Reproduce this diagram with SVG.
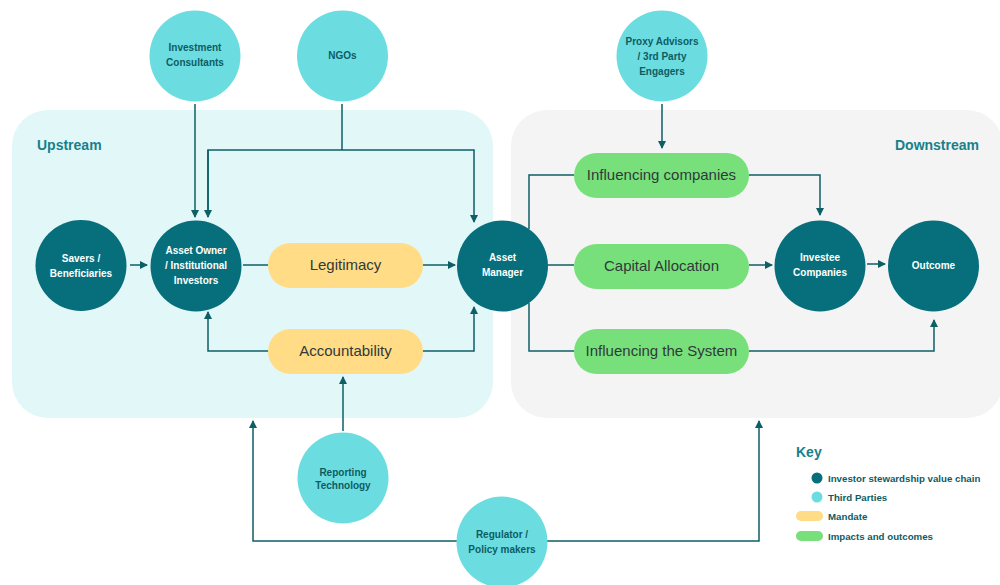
<svg xmlns="http://www.w3.org/2000/svg" width="1000" height="585" viewBox="0 0 1000 585">
<style>
.dk{fill:#076f7c}
.lt{fill:#6bdde1}
.ye{fill:#ffdc85}
.gr{fill:#78e07a}
.wt{font-family:"Liberation Sans",Arial,sans-serif;font-weight:bold;font-size:10px;fill:#ffffff;text-anchor:middle}
.tt{font-family:"Liberation Sans",Arial,sans-serif;font-weight:bold;font-size:10px;fill:#0e5c63;text-anchor:middle}
.pt{font-family:"Liberation Sans",Arial,sans-serif;font-size:15px;fill:#2f3a3a;text-anchor:middle}
.hd{font-family:"Liberation Sans",Arial,sans-serif;font-weight:bold;font-size:14px;fill:#17808b}
.kt{font-family:"Liberation Sans",Arial,sans-serif;font-weight:bold;font-size:9.7px;fill:#0e5c63}
.ln{fill:none;stroke:#0d5f66;stroke-width:1.5}
</style>
<defs>
<marker id="ah" viewBox="0 0 8 8" refX="7" refY="4" markerWidth="8" markerHeight="8" markerUnits="userSpaceOnUse" orient="auto">
<path d="M0,0 L8,4 L0,8 Z" fill="#0d5f66"/>
</marker>
</defs>

<g id="panels">
<rect id="upstream" x="12" y="110" width="481" height="308" rx="36" fill="#e2f7f8"/>
<rect id="downstream" x="511" y="110" width="492" height="308" rx="36" fill="#f4f4f4"/>
<text class="hd" x="37" y="150">Upstream</text>
<text class="hd" x="979" y="150" text-anchor="end">Downstream</text>
</g>

<g id="connectors">
<path class="ln" d="M195,104 V217" marker-end="url(#ah)"/>
<path class="ln" d="M342,104 V150"/>
<path class="ln" d="M208,217 V150 H474 V222" marker-end="url(#ah)"/>
<path class="ln" d="M208,150 V217" marker-end="url(#ah)"/>
<path class="ln" d="M130,265 H147" marker-end="url(#ah)"/>
<path class="ln" d="M243,265 H268"/>
<path class="ln" d="M423,265 H455" marker-end="url(#ah)"/>
<path class="ln" d="M268,351 H208 V312" marker-end="url(#ah)"/>
<path class="ln" d="M423,351 H474 V307" marker-end="url(#ah)"/>
<path class="ln" d="M343,431 V377" marker-end="url(#ah)"/>
<path class="ln" d="M457,541 H253 V421" marker-end="url(#ah)"/>
<path class="ln" d="M547,541 H759 V421" marker-end="url(#ah)"/>
<path class="ln" d="M662,104 V148" marker-end="url(#ah)"/>
<path class="ln" d="M529,229 V175 H574"/>
<path class="ln" d="M749,175 H820 V215" marker-end="url(#ah)"/>
<path class="ln" d="M547,265 H574"/>
<path class="ln" d="M749,265 H772" marker-end="url(#ah)"/>
<path class="ln" d="M867,264 H885" marker-end="url(#ah)"/>
<path class="ln" d="M529,303 V351 H574"/>
<path class="ln" d="M749,351 H934 V320" marker-end="url(#ah)"/>
</g>

<g id="investment-consultants"><circle class="lt" cx="195" cy="56" r="45.5"/><text class="tt" x="195" y="51">Investment</text><text class="tt" x="195" y="66">Consultants</text></g>
<g id="ngos"><circle class="lt" cx="342.5" cy="56" r="45.5"/><text class="tt" x="342.5" y="59">NGOs</text></g>
<g id="proxy-advisors"><circle class="lt" cx="662" cy="56" r="45.5"/><text class="tt" x="662" y="45">Proxy Advisors</text><text class="tt" x="662" y="60">/ 3rd Party</text><text class="tt" x="662" y="75">Engagers</text></g>
<g id="savers"><circle class="dk" cx="81" cy="265.5" r="45.5"/><text class="wt" x="81" y="262">Savers /</text><text class="wt" x="81" y="277">Beneficiaries</text></g>
<g id="asset-owner"><circle class="dk" cx="196" cy="266" r="45.5"/><text class="wt" x="196" y="254">Asset Owner</text><text class="wt" x="196" y="269">/ Institutional</text><text class="wt" x="196" y="284">Investors</text></g>
<g id="asset-manager"><circle class="dk" cx="502.5" cy="266" r="45.5"/><text class="wt" x="502.5" y="261">Asset</text><text class="wt" x="502.5" y="276">Manager</text></g>
<g id="investee-companies"><circle class="dk" cx="820" cy="266" r="45.5"/><text class="wt" x="820" y="261">Investee</text><text class="wt" x="820" y="276">Companies</text></g>
<g id="outcome"><circle class="dk" cx="933.5" cy="266" r="45.5"/><text class="wt" x="933.5" y="269">Outcome</text></g>
<g id="reporting-technology"><circle class="lt" cx="343" cy="478" r="45.5"/><text class="tt" x="343" y="476">Reporting</text><text class="tt" x="343" y="489">Technology</text></g>
<g id="regulator"><circle class="lt" cx="502" cy="542" r="45.5"/><text class="tt" x="502" y="538">Regulator /</text><text class="tt" x="502" y="553">Policy makers</text></g>

<g id="legitimacy"><rect class="ye" x="268" y="243" width="155" height="45" rx="22.5"/><text class="pt" x="345.5" y="270">Legitimacy</text></g>
<g id="accountability"><rect class="ye" x="268" y="329" width="155" height="45" rx="22.5"/><text class="pt" x="345.5" y="356">Accountability</text></g>
<g id="influencing-companies"><rect class="gr" x="574" y="153" width="175" height="45" rx="22.5"/><text class="pt" x="661.5" y="180">Influencing companies</text></g>
<g id="capital-allocation"><rect class="gr" x="574" y="244" width="175" height="45" rx="22.5"/><text class="pt" x="661.5" y="271">Capital Allocation</text></g>
<g id="influencing-system"><rect class="gr" x="574" y="329" width="175" height="45" rx="22.5"/><text class="pt" x="661.5" y="356">Influencing the System</text></g>

<g id="key">
<text class="hd" x="796" y="457">Key</text>
<circle class="dk" cx="817" cy="478" r="5.5"/><text class="kt" x="828" y="482">Investor stewardship value chain</text>
<circle class="lt" cx="817" cy="497" r="5.5"/><text class="kt" x="828" y="501">Third Parties</text>
<rect class="ye" x="796" y="511" width="27" height="10" rx="5"/><text class="kt" x="828" y="520">Mandate</text>
<rect class="gr" x="796" y="531" width="27" height="10" rx="5"/><text class="kt" x="828" y="540">Impacts and outcomes</text>
</g>
</svg>
